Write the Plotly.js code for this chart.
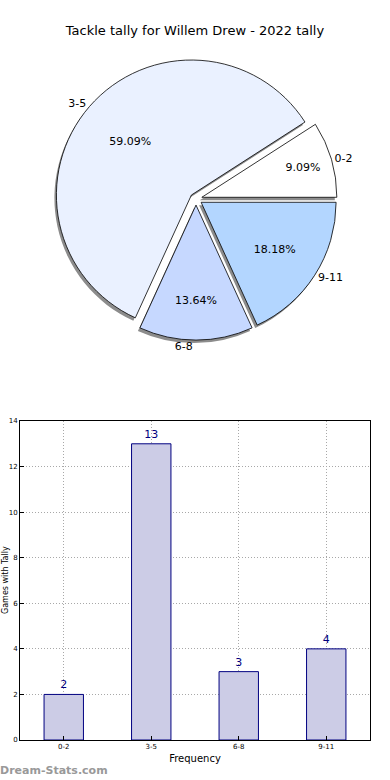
<!DOCTYPE html>
<html>
<head>
<meta charset="utf-8">
<script src="https://cdn.plot.ly/plotly-3.0.1.min.js"></script>
<style>html,body{margin:0;padding:0;background:#fff;}#chart{width:390px;height:780px;}</style>
</head>
<body>
<div id="chart"></div>
<script>
const categories = ["0-2", "3-5", "6-8", "9-11"];
const counts = [2, 13, 3, 4];
const sliceColors = ["#ffffff", "#eaf1ff", "#c6d8ff", "#b3d6ff"];
const pulls = [0.045, 0.045, 0.045, 0.045];
const yTicks = [0, 2, 4, 6, 8, 10, 12, 14];

const W = 390, H = 780;
const total = counts.reduce((a, b) => a + b, 0);
const startRot = 90 - counts[0] / total * 360;
const cx = 196, cy = 199, r = 135 * 1.045;
const pieDom = {x: [(cx - r) / W, (cx + r) / W], y: [(H - cy - r) / H, (H - cy + r) / H]};
const shDx = -2 / W, shDy = -3 / H;
const clear = categories.map(() => "rgba(0,0,0,0)");

const common = {type: "pie", values: counts, labels: categories, sort: false,
  direction: "counterclockwise", rotation: startRot, pull: pulls, showlegend: false, hoverinfo: "skip"};

const shadow = Object.assign({}, common, {
  marker: {colors: categories.map(() => "#8c8c8c"), line: {width: 0}},
  textinfo: "none",
  domain: {x: [pieDom.x[0] + shDx, pieDom.x[1] + shDx], y: [pieDom.y[0] + shDy, pieDom.y[1] + shDy]}
});
const main = Object.assign({}, common, {
  marker: {colors: sliceColors, line: {color: "#000000", width: 0.8}},
  textinfo: "none", domain: pieDom
});
const pctText = Object.assign({}, common, {
  hole: 0.2,
  marker: {colors: clear, line: {width: 0}},
  texttemplate: "%{percent:.2%}", textposition: "inside", insidetextorientation: "horizontal",
  textfont: {family: "DejaVu Sans", size: 11, color: "#000"}, domain: pieDom
});
const labelsPie = Object.assign({}, common, {
  marker: {colors: clear, line: {width: 0}},
  textinfo: "label", textposition: "outside",
  textfont: {family: "DejaVu Sans", size: 11, color: "#000"}, domain: pieDom
});
const bars = {
  type: "bar", x: categories, y: counts, width: 0.45,
  marker: {color: "#ccccE6", line: {color: "#000080", width: 1}},
  text: counts.map(String), textposition: "outside", cliponaxis: false,
  textfont: {family: "DejaVu Sans", size: 11, color: "#000080"},
  xaxis: "x", yaxis: "y", showlegend: false
};

const layout = {
  width: W, height: H, margin: {l: 0, r: 0, t: 0, b: 0},
  paper_bgcolor: "#fff", plot_bgcolor: "#fff",
  font: {family: "DejaVu Sans", color: "#000"},
  title: {text: "Tackle tally for Willem Drew - 2022 tally", x: 0.5, xanchor: "center", y: 1 - 30 / H, yanchor: "middle",
          font: {family: "DejaVu Sans", size: 13, color: "#000"}},
  xaxis: {domain: [20 / W, 370 / W], range: [-0.5, 3.5], type: "category",
          showgrid: true, gridcolor: "#a8a8a8", griddash: "1px,2px", gridwidth: 1,
          showline: true, linecolor: "#000", mirror: true, linewidth: 1,
          ticks: "inside", ticklen: 4, tickcolor: "#000",
          tickfont: {family: "DejaVu Sans", size: 7, color: "#000"},
          title: {text: "Frequency", font: {family: "DejaVu Sans", size: 10, color: "#000"}, standoff: 4},
          zeroline: false, fixedrange: true},
  yaxis: {domain: [40 / H, 359 / H], range: [0, 14], tickvals: yTicks,
          showgrid: true, gridcolor: "#a8a8a8", griddash: "1px,2px", gridwidth: 1,
          showline: true, linecolor: "#000", mirror: true, linewidth: 1,
          ticks: "inside", ticklen: 4, tickcolor: "#000",
          tickfont: {family: "DejaVu Sans", size: 7, color: "#000"},
          zeroline: false, fixedrange: true},
  annotations: [
    {text: "Games with Tally", xref: "paper", yref: "paper", x: 5 / W, y: (H - 580) / H, textangle: -90,
     showarrow: false, xanchor: "center", yanchor: "middle", font: {family: "DejaVu Sans", size: 8, color: "#000"}},
    {text: "<b>Dream-Stats.com</b>", xref: "paper", yref: "paper", x: -2 / W, y: 10 / H,
     showarrow: false, xanchor: "left", yanchor: "middle", font: {family: "DejaVu Sans", size: 11, color: "#999999"}}
  ]
};

Plotly.newPlot("chart", [shadow, main, pctText, labelsPie, bars], layout, {displayModeBar: false, staticPlot: true});
</script>
</body>
</html>
